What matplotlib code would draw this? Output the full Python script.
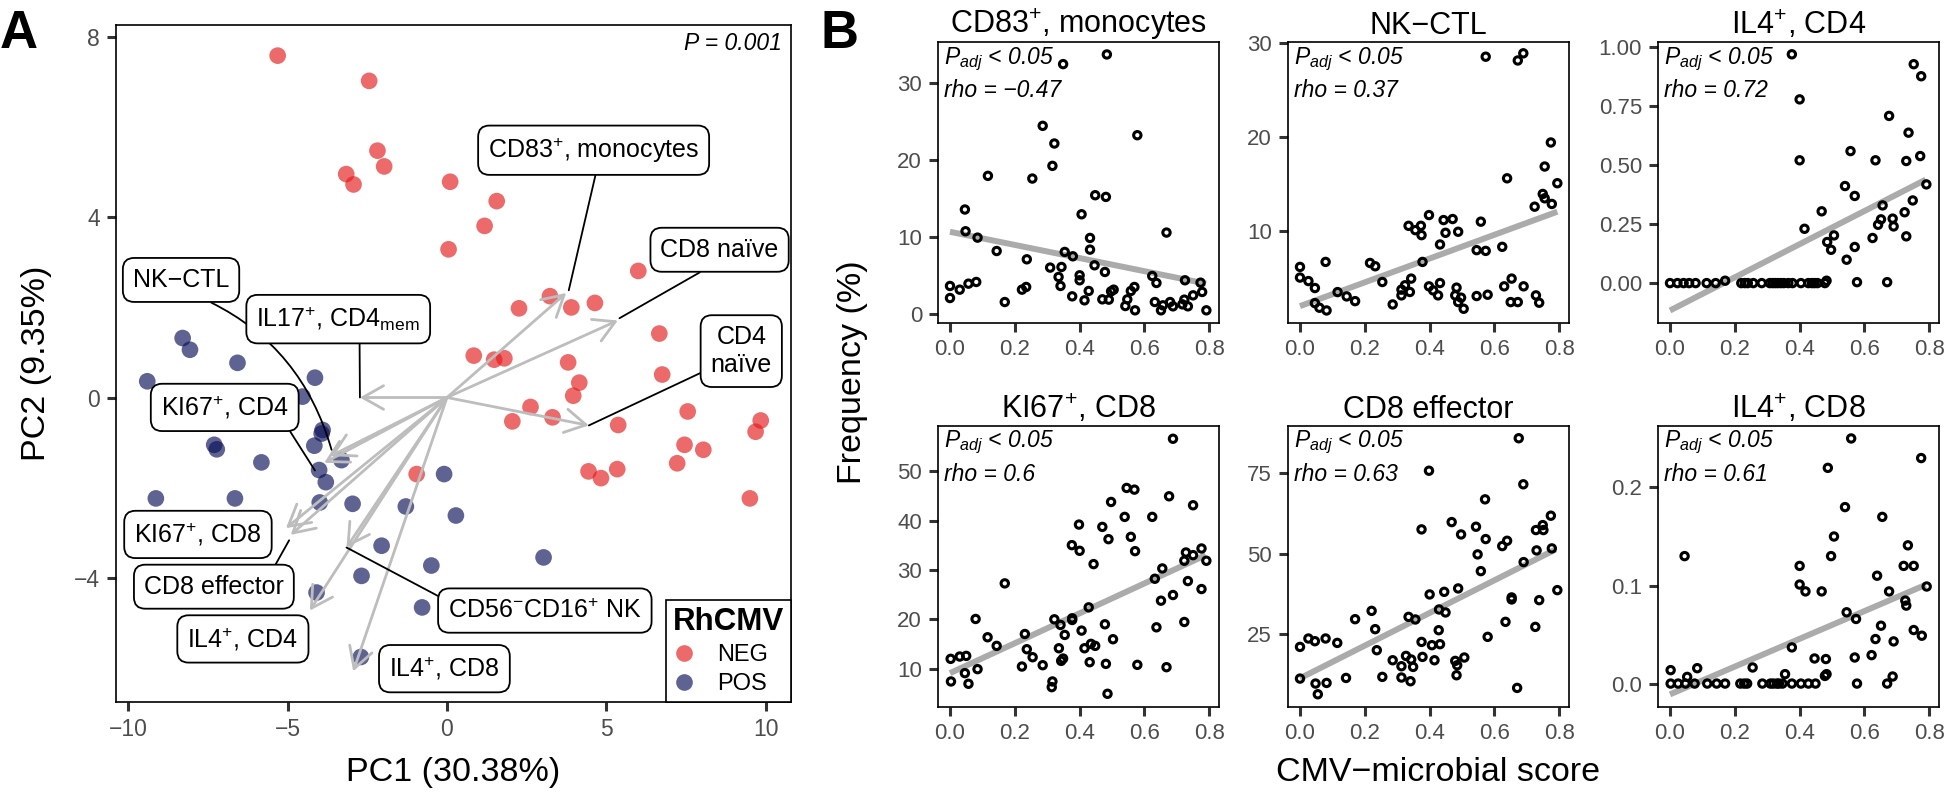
import matplotlib
matplotlib.use("Agg")
import matplotlib.pyplot as plt
from matplotlib.lines import Line2D
from matplotlib.ticker import FormatStrFormatter

plt.rcParams["font.family"] = ["Liberation Sans", "DejaVu Sans"]
plt.rcParams["mathtext.fontset"] = "custom"
plt.rcParams["mathtext.rm"] = "Liberation Sans"
plt.rcParams["mathtext.it"] = "Liberation Sans:italic"
plt.rcParams["mathtext.bf"] = "Liberation Sans:bold"

W, H = 1945, 792  # output size in pixels (dpi 100)

# ---------------- panel A: PCA scores ----------------
neg_pc1 = [-5.31, -2.44, -2.18, -1.97, -3.16, -2.93, 0.10, 1.56, 1.18, 0.05, 6.00, 3.23, 3.90,
           4.64, 2.26, 6.66, 0.84, 1.48, 1.80, 3.80, 4.15, 6.75, 3.96, 2.62, 2.05, 3.31, 5.37,
           7.55, 9.84, 9.68, 7.45, 8.04, 7.22, 4.44, 4.83, 5.34, -0.95, 9.50]
neg_pc2 = [7.59, 7.03, 5.48, 5.13, 4.96, 4.73, 4.79, 4.36, 3.81, 3.29, 2.81, 2.25, 2.00,
           2.10, 1.98, 1.42, 0.93, 0.84, 0.87, 0.78, 0.33, 0.51, 0.04, -0.21, -0.53, -0.44, -0.61,
           -0.31, -0.51, -0.76, -1.05, -1.16, -1.46, -1.64, -1.79, -1.59, -1.70, -2.24]
pos_pc1 = [-8.29, -8.06, -6.57, -9.40, -4.14, -4.53, -3.90, -3.93, -4.16, -7.30, -7.22, -5.82,
           -3.31, -4.01, -3.80, -9.13, -6.65, -3.99, -2.96, -1.29, -0.09, 0.28, -2.05, -0.49,
           -2.68, -4.09, -0.78, -2.70, 3.03]
pos_pc2 = [1.32, 1.06, 0.77, 0.36, 0.44, 0.02, -0.72, -0.80, -1.07, -1.05, -1.15, -1.44,
           -1.39, -1.61, -1.88, -2.24, -2.24, -2.33, -2.36, -2.42, -1.70, -2.62, -3.29, -3.73,
           -3.96, -4.33, -4.66, -5.76, -3.55]

# loading vectors (arrow tips)
loading_names = [r"CD83$^{+}$, monocytes", "CD8 naïve", "CD4\nnaïve", "NK\u2212CTL",
                 r"IL17$^{+}$, CD4$_{\mathrm{mem}}$", r"KI67$^{+}$, CD4", r"KI67$^{+}$, CD8",
                 "CD8 effector", r"IL4$^{+}$, CD4", r"IL4$^{+}$, CD8", r"CD56$^{-}$CD16$^{+}$ NK"]
loading_pc1 = [3.74, 5.36, 4.45, -3.65, -2.73, -3.85, -5.05, -4.90, -4.30, -2.94, -3.15]
loading_pc2 = [2.32, 1.71, -0.62, -1.30, 0.00, -1.45, -2.90, -3.05, -4.73, -6.08, -3.33]

# label boxes: centre, leader-line end, start point on the box, curvature
label_layout = [
    dict(at=(4.60, 5.49), to=(3.82, 2.38), rel=(0.52, 0.0), rad=0.0),
    dict(at=(8.55, 3.28), to=(5.41, 1.76), rel=(0.49, 0.0), rad=0.0),
    dict(at=(9.23, 1.03), to=(4.45, -0.62), rel=(0.0, 0.17), rad=0.0),
    dict(at=(-8.34, 2.61), to=(-3.62, -1.16), rel=(0.56, 0.0), rad=-0.25),
    dict(at=(-3.41, 1.74), to=(-2.73, 0.0), rel=(0.63, 0.0), rad=0.0),
    dict(at=(-6.97, -0.22), to=(-4.14, -1.62), rel=(0.96, 0.0), rad=0.0),
    dict(at=(-7.81, -3.04), to=None, rel=None, rad=0.0),
    dict(at=(-7.31, -4.20), to=(-4.95, -3.17), rel=(0.9, 1.0), rad=0.0),
    dict(at=(-6.40, -5.36), to=None, rel=None, rad=0.0),
    dict(at=(-0.08, -6.02), to=None, rel=None, rad=0.0),
    dict(at=(3.07, -4.73), to=(-3.15, -3.33), rel=(0.0, 0.88), rad=0.0),
]

# ---------------- panel B: frequency vs CMV-microbial score ----------------
cd83_x = [0.0, 0.0, 0.03, 0.046, 0.048, 0.057, 0.081, 0.085, 0.117, 0.144, 0.169, 0.222, 0.235,
          0.237, 0.254, 0.286, 0.309, 0.316, 0.322, 0.335, 0.341, 0.344, 0.349, 0.354, 0.377,
          0.379, 0.406, 0.40, 0.40, 0.415, 0.428, 0.432, 0.432, 0.446, 0.448, 0.47, 0.478, 0.481,
          0.484, 0.49, 0.497, 0.505, 0.541, 0.547, 0.558, 0.569, 0.571, 0.578, 0.624, 0.637,
          0.632, 0.651, 0.657, 0.668, 0.679, 0.688, 0.717, 0.725, 0.723, 0.734, 0.75, 0.773,
          0.778, 0.791]
cd83_y = [3.65, 2.08, 3.17, 13.6, 10.77, 3.95, 4.17, 9.94, 17.98, 8.2, 1.56, 3.17, 3.52,
          7.12, 17.63, 24.49, 6.04, 19.28, 22.19, 4.82, 3.65, 6.12, 32.52, 8.08, 2.3,
          7.51, 12.98, 5.04, 4.39, 1.78, 3.0, 9.9, 8.38, 6.34, 15.46, 1.91, 5.47, 15.24,
          33.78, 1.87, 2.95, 3.17, 1.04, 1.91, 3.0, 3.52, 0.48, 23.27, 4.95, 4.04,
          1.56, 0.48, 1.13, 10.6, 1.56, 1.0, 1.26, 4.39, 1.87, 1.0, 2.43, 4.08,
          2.87, 0.48]

nkctl_x = [0.0, 0.0, 0.026, 0.046, 0.046, 0.06, 0.082, 0.079, 0.116, 0.144, 0.17, 0.216, 0.232,
           0.254, 0.286, 0.313, 0.313, 0.324, 0.339, 0.343, 0.335, 0.356, 0.375, 0.373, 0.378,
           0.398, 0.398, 0.411, 0.426, 0.432, 0.443, 0.471, 0.449, 0.488, 0.432, 0.483, 0.479,
           0.488, 0.497, 0.505, 0.558, 0.545, 0.573, 0.545, 0.579, 0.573, 0.624, 0.639, 0.630,
           0.653, 0.69, 0.65, 0.672, 0.672, 0.689, 0.724, 0.749, 0.755, 0.728, 0.738, 0.755,
           0.777, 0.774, 0.794]
nkctl_y = [6.2, 5.07, 4.7, 3.96, 2.36, 1.87, 1.58, 6.73, 3.53, 3.07, 2.57, 6.62, 6.27,
           4.6, 2.22, 3.18, 3.79, 4.25, 3.54, 4.96, 10.56, 10.1, 9.57, 10.56, 6.73,
           11.7, 4.14, 3.71, 3.18, 8.58, 11.17, 11.28, 9.82, 9.93, 4.49, 4.0, 3.18,
           2.47, 2.94, 1.76, 11.0, 7.98, 7.9, 3.11, 3.25, 28.5, 8.33, 15.6, 4.14,
           4.96, 4.14, 2.47, 2.47, 28.1, 28.86, 12.59, 13.94, 13.48, 3.18, 2.4, 16.85,
           12.88, 19.4, 15.08]

il4cd4_x = [0.0, 0.023, 0.042, 0.059, 0.079, 0.113, 0.141, 0.17, 0.22, 0.231, 0.24, 0.257,
            0.283, 0.308, 0.317, 0.325, 0.333, 0.342, 0.351, 0.365, 0.378, 0.404, 0.427, 0.438,
            0.446, 0.455, 0.478, 0.483,
            0.376, 0.40, 0.40, 0.415, 0.468, 0.485, 0.497, 0.506, 0.54, 0.557, 0.57, 0.545,
            0.57, 0.577, 0.625, 0.634, 0.642, 0.651, 0.656, 0.67, 0.676, 0.687, 0.69, 0.724,
            0.729, 0.729, 0.736, 0.749, 0.752, 0.772, 0.775, 0.791]
il4cd4_y = [0.0, 0.0, 0.0, 0.0, 0.0, 0.0, 0.0, 0.01, 0.0, 0.0, 0.0, 0.0,
            0.0, 0.0, 0.0, 0.0, 0.0, 0.0, 0.0, 0.0, 0.0, 0.0, 0.0, 0.0,
            0.0, 0.0, 0.0, 0.01,
            0.969, 0.778, 0.52, 0.23, 0.304, 0.174, 0.141, 0.202, 0.411, 0.559, 0.369, 0.099,
            0.153, 0.004, 0.191, 0.52, 0.247, 0.27, 0.329, 0.004, 0.708, 0.273, 0.24, 0.30,
            0.198, 0.517, 0.637, 0.35, 0.927, 0.538, 0.876, 0.418]

ki67_x = [0.002, 0.003, 0.03, 0.05, 0.046, 0.057, 0.079, 0.085, 0.116, 0.144, 0.169, 0.222,
          0.231, 0.237, 0.255, 0.286, 0.316, 0.314, 0.322, 0.336, 0.341, 0.343, 0.349, 0.354,
          0.377, 0.377, 0.376, 0.398, 0.40, 0.406, 0.415, 0.428, 0.431, 0.448, 0.443, 0.435,
          0.47, 0.478, 0.481, 0.486, 0.489, 0.497, 0.503, 0.539, 0.545, 0.558, 0.569, 0.571,
          0.578, 0.624, 0.632, 0.637, 0.651, 0.655, 0.668, 0.676, 0.688, 0.688, 0.723, 0.723,
          0.728, 0.734, 0.75, 0.75, 0.776, 0.776, 0.791]
ki67_y = [11.96, 7.37, 12.43, 12.56, 9.06, 6.9, 20.05, 9.87, 16.34, 14.59, 27.27, 10.4,
          17.0, 13.91, 12.29, 10.67, 7.37, 6.22, 19.98, 14.11, 18.84, 11.55, 12.02, 16.81,
          19.85, 20.19, 35.03, 39.2, 33.88, 17.69, 14.11, 22.41, 11.28, 14.59, 31.18, 15.0,
          38.73, 18.97, 10.94, 4.87, 36.24, 43.79, 15.94, 40.76, 46.63, 36.71, 46.29, 33.81,
          10.74, 40.76, 28.21, 18.36, 23.76, 30.3, 10.27, 44.94, 24.91, 56.61, 19.44, 31.86,
          33.54, 27.74, 33.0, 43.12, 34.35, 26.12, 31.86]

cd8eff_x = [0.0, 0.026, 0.046, 0.079, 0.115, 0.0, 0.048, 0.055, 0.082, 0.142, 0.17, 0.221,
            0.232, 0.237, 0.254, 0.286, 0.313, 0.327, 0.343, 0.313, 0.341, 0.349, 0.335, 0.356,
            0.375, 0.407, 0.432, 0.378, 0.375, 0.40, 0.398, 0.429, 0.449, 0.428, 0.415, 0.445,
            0.468, 0.497, 0.488, 0.479, 0.485, 0.507, 0.483, 0.543, 0.548, 0.558, 0.573, 0.571,
            0.579, 0.624, 0.639, 0.634, 0.653, 0.653, 0.67, 0.675, 0.689, 0.69, 0.728, 0.751,
            0.749, 0.73, 0.726, 0.738, 0.774, 0.777, 0.794]
cd8eff_y = [21.05, 23.66, 22.82, 23.66, 22.29, 11.2, 9.66, 6.33, 9.85, 11.4, 29.66, 32.25,
            26.56, 20.02, 11.73, 16.9, 15.04, 18.25, 17.13, 11.53, 10.38, 14.83, 30.38, 29.57,
            22.6, 21.58, 21.89, 17.94, 57.57, 37.35, 75.8, 32.68, 31.75, 26.24, 16.9, 38.16,
            59.84, 56.0, 39.22, 16.7, 15.35, 17.75, 12.24, 58.39, 49.8, 44.6, 54.56, 66.91,
            24.17, 52.38, 54.03, 28.83, 36.42, 35.8, 8.3, 85.9, 71.58, 47.4, 57.36, 57.36,
            58.9, 51.04, 27.27, 35.58, 61.82, 51.66, 38.69]

il4cd8_x = [0.002, 0.025, 0.048, 0.076, 0.115, 0.144, 0.17, 0.217, 0.229, 0.238, 0.285, 0.31,
            0.319, 0.33, 0.336, 0.347, 0.376, 0.404, 0.427, 0.449,
            0.002, 0.053, 0.084, 0.045, 0.255, 0.355, 0.376, 0.40, 0.40, 0.418, 0.446, 0.468,
            0.478, 0.483, 0.481, 0.487, 0.497, 0.506, 0.54, 0.545, 0.559, 0.57, 0.574, 0.577,
            0.622, 0.634, 0.639, 0.651, 0.655, 0.67, 0.687, 0.676, 0.69, 0.726, 0.729, 0.721,
            0.752, 0.734, 0.752, 0.775, 0.777, 0.792]
il4cd8_y = [0.0, 0.0, 0.0, 0.0, 0.0, 0.0, 0.0, 0.0, 0.0, 0.0, 0.0, 0.0,
            0.0, 0.0, 0.0, 0.0, 0.0, 0.0, 0.0, 0.0,
            0.0137, 0.0068, 0.0157, 0.13, 0.0164, 0.0096, 0.0369, 0.12, 0.101, 0.094, 0.0256, 0.094,
            0.0078, 0.0096, 0.025, 0.22, 0.13, 0.150, 0.18, 0.0727, 0.25, 0.0266, 0.0659, 0.0,
            0.029, 0.0454, 0.110, 0.059, 0.17, 0.0, 0.0072, 0.094, 0.043, 0.0846, 0.0795, 0.12,
            0.12, 0.141, 0.0546, 0.23, 0.0488, 0.099]

# linear trend end points (x0, y0, x1, y1)
cd83_trend = [0.0, 10.7, 0.79, 3.95]
nkctl_trend = [0.0, 2.04, 0.794, 12.06]
il4cd4_trend = [0.0, -0.116, 0.789, 0.438]
ki67_trend = [0.0, 9.06, 0.789, 33.0]
cd8eff_trend = [0.0, 11.3, 0.789, 51.35]
il4cd8_trend = [0.0, -0.011, 0.789, 0.1007]

panel_titles = [r"CD83$^{+}$, monocytes", "NK\u2212CTL", r"IL4$^{+}$, CD4",
                r"KI67$^{+}$, CD8", "CD8 effector", r"IL4$^{+}$, CD8"]
panel_rho = ["\u22120.47", "0.37", "0.72", "0.6", "0.63", "0.61"]
panel_yticks = [[0, 10, 20, 30], [10, 20, 30], [0.0, 0.25, 0.5, 0.75, 1.0],
                [10, 20, 30, 40, 50], [25, 50, 75], [0.0, 0.1, 0.2]]
score_ticks = [0.0, 0.2, 0.4, 0.6, 0.8]

TICK_GREY = "#4D4D4D"
TICK_DARK = "#333333"
NEG_COLOR = "#E41A1C"
POS_COLOR = "#0A1058"
ARROW_GREY = "#BDBDBD"


def style_axes(ax, labelsize=16):
    for s in ax.spines.values():
        s.set_linewidth(1.2)
        s.set_color("black")
    ax.tick_params(length=6.5, width=2.2, color=TICK_DARK, labelcolor=TICK_GREY,
                   labelsize=labelsize, pad=5)


fig = plt.figure(figsize=(W / 100, H / 100), dpi=100)

# ======================= panel A =======================
axA = fig.add_axes([116 / W, 1 - 702 / H, (791 - 116) / W, (702 - 25) / H])
axA.scatter(neg_pc1, neg_pc2, s=144, color=NEG_COLOR, alpha=0.65, edgecolors="none", zorder=2)
axA.scatter(pos_pc1, pos_pc2, s=144, color=POS_COLOR, alpha=0.65, edgecolors="none", zorder=2)

for tx, ty in zip(loading_pc1, loading_pc2):
    axA.annotate("", xy=(tx, ty), xytext=(0, 0), zorder=3,
                 arrowprops=dict(arrowstyle="->,head_length=1.5,head_width=0.85",
                                 color=ARROW_GREY, lw=2.0, shrinkA=0, shrinkB=0,
                                 mutation_scale=10))

for name, lay in zip(loading_names, label_layout):
    box = dict(boxstyle="round,pad=0.4,rounding_size=0.45", fc="white", ec="black", lw=1.3)
    if lay["to"] is None:
        axA.text(*lay["at"], name, ha="center", va="center", fontsize=18, bbox=box,
                 multialignment="center", zorder=5)
    else:
        axA.annotate(name, xy=lay["to"], xytext=lay["at"], ha="center", va="center",
                     fontsize=18, bbox=box, multialignment="center", zorder=5,
                     arrowprops=dict(arrowstyle="-", color="black", lw=1.3, shrinkA=0,
                                     shrinkB=0, relpos=lay["rel"],
                                     connectionstyle=f"arc3,rad={lay['rad']}"))

axA.set_xlim(-10.38, 10.79)
axA.set_ylim(-6.76, 8.27)
axA.set_xticks([-10, -5, 0, 5, 10])
axA.set_yticks([-4, 0, 4, 8])
style_axes(axA, labelsize=16.5)
axA.text(1 - 9 / 675, 1 - 7 / 677, "P = 0.001", transform=axA.transAxes, ha="right",
         va="top", fontsize=16.5, style="italic")

handles = [Line2D([], [], marker="o", ls="", ms=12, color=c, alpha=0.65, mec="none")
           for c in (NEG_COLOR, POS_COLOR)]
leg = axA.legend(handles, ["NEG", "POS"], title="RhCMV", loc="lower right",
                 bbox_to_anchor=(1, 0), borderaxespad=0, fancybox=False, edgecolor="black",
                 fontsize=17, title_fontsize=22.5, alignment="left", handlelength=1.0,
                 handletextpad=0.9, borderpad=0.3, labelspacing=0.3, framealpha=1)
leg.get_frame().set_linewidth(1.2)
leg.get_title().set_fontweight("bold")
leg.set_zorder(6)

fig.text(37 / W, 1 - 363 / H, "PC2 (9.35%)", rotation=90, ha="center", va="center", fontsize=24.5)
fig.text(453 / W, 1 - 781 / H, "PC1 (30.38%)", ha="center", va="baseline", fontsize=24.5)
fig.text(0 / W, 1 - 9 / H, "A", ha="left", va="top", fontsize=38, fontweight="bold")

# ======================= panel B =======================
panel_data = [(cd83_x, cd83_y, cd83_trend, (-1.17, 35.4)),
              (nkctl_x, nkctl_y, nkctl_trend, (0.25, 30.06)),
              (il4cd4_x, il4cd4_y, il4cd4_trend, (-0.169, 1.021)),
              (ki67_x, ki67_y, ki67_trend, (2.19, 59.2)),
              (cd8eff_x, cd8eff_y, cd8eff_trend, (2.37, 89.7)),
              (il4cd8_x, il4cd8_y, il4cd8_trend, (-0.0239, 0.2627))]
col_left = [938, 1288, 1658]
row_top = [42, 426]
side = 281

for i, (xs, ys, trend, ylim) in enumerate(panel_data):
    r, c = divmod(i, 3)
    ax = fig.add_axes([col_left[c] / W, 1 - (row_top[r] + side) / H, side / W, side / H])
    ax.plot([trend[0], trend[2]], [trend[1], trend[3]], color="#ABABAB", lw=4.3,
            solid_capstyle="butt", zorder=2)
    ax.scatter(xs, ys, s=28, facecolors="none", edgecolors="black", linewidths=2.2, zorder=3)
    ax.set_xlim(-0.037, 0.830)
    ax.set_ylim(*ylim)
    ax.set_xticks(score_ticks)
    ax.xaxis.set_major_formatter(FormatStrFormatter("%.1f"))
    ax.set_yticks(panel_yticks[i])
    if i == 2:
        ax.yaxis.set_major_formatter(FormatStrFormatter("%.2f"))
    elif i == 5:
        ax.yaxis.set_major_formatter(FormatStrFormatter("%.1f"))
    style_axes(ax)
    ax.set_title(panel_titles[i], fontsize=22, pad=6)
    ax.text(6 / side, 1 - 21.6 / side, r"$P_{adj}$ < 0.05", transform=ax.transAxes,
            ha="left", va="baseline", fontsize=16.5, style="italic")
    ax.text(6 / side, 1 - 55 / side, "rho = " + panel_rho[i], transform=ax.transAxes,
            ha="left", va="baseline", fontsize=16.5, style="italic")

fig.text(853 / W, 1 - 372 / H, "Frequency (%)", rotation=90, ha="center", va="center",
         fontsize=24.5)
fig.text(1438 / W, 1 - 781 / H, "CMV\u2212microbial score", ha="center", va="baseline",
         fontsize=24.5)
fig.text(820 / W, 1 - 9 / H, "B", ha="left", va="top", fontsize=38, fontweight="bold")

fig.savefig("out.png", dpi=100)
